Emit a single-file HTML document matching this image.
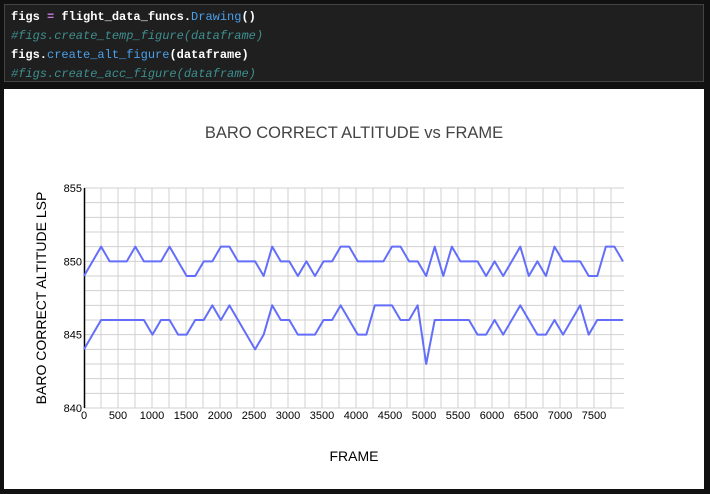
<!DOCTYPE html>
<html><head><meta charset="utf-8"><style>
body{margin:0;width:710px;height:494px;background:#111;overflow:hidden;font-family:"Liberation Sans",sans-serif}
#code{position:absolute;left:4px;top:4px;width:700px;height:78px;background:#1f1f1f;border:1px solid #444;box-sizing:border-box;font-family:"Liberation Mono","DejaVu Sans Mono",monospace;font-size:12px;line-height:19px;padding:3px 6px;color:#fff;font-weight:bold;white-space:pre}
.c{color:#3f8f8f;font-style:italic;font-weight:normal}.b{color:#4aa0ea;font-weight:normal}.p{color:#c678dd}
#fig{position:absolute;left:4px;top:89px;width:700px;height:400px;background:#fff}
</style></head><body>
<div id="code"><span>figs <span class="p">=</span> flight_data_funcs.<span class="b">Drawing</span>()</span>
<span class="c">#figs.create_temp_figure(dataframe)</span>
<span>figs.<span class="b">create_alt_figure</span>(dataframe)</span>
<span class="c">#figs.create_acc_figure(dataframe)</span></div>
<div id="fig"></div>
<svg id="chart" width="710" height="494" style="position:absolute;left:0;top:0"></svg>
<script>
const upper=[849,850,851,850,850,850,851,850,850,850,851,850,849,849,850,850,851,851,850,850,850,849,851,850,850,849,850,849,850,850,851,851,850,850,850,850,851,851,850,850,849,851,849,851,850,850,850,849,850,849,850,851,849,850,849,851,850,850,850,849,849,851,851,850];
const lower=[844,845,846,846,846,846,846,846,845,846,846,845,845,846,846,847,846,847,846,845,844,845,847,846,846,845,845,845,846,846,847,846,845,845,847,847,847,846,846,847,843,846,846,846,846,846,845,845,846,845,846,847,846,845,845,846,845,846,847,845,846,846,846,846];
const frameStep=125.8;
const xTicks=[0,500,1000,1500,2000,2500,3000,3500,4000,4500,5000,5500,6000,6500,7000,7500];
const yTicks=[840,845,850,855];
const NS="http://www.w3.org/2000/svg",svg=document.getElementById('chart');
const X0=84,X1=624,Y0=408,Y1=188,xMax=7941,yMin=840,yMax=855;
const xs=v=>X0+(v/xMax)*(X1-X0), ys=v=>Y0-(v-yMin)/(yMax-yMin)*(Y0-Y1);
function mk(t,a,txt){const e=document.createElementNS(NS,t);for(const k in a)e.setAttribute(k,a[k]);if(txt!=null)e.textContent=txt;svg.appendChild(e);return e;}
for(let f=250;f<xMax;f+=250){const g=mk('line',{x1:xs(f),x2:xs(f),y1:Y1,y2:Y0,stroke:'#d0d0d0','stroke-width':1});

}
for(let v=yMin;v<=yMax;v++){const g=mk('line',{x1:X0,x2:X1,y1:ys(v),y2:ys(v),stroke:'#d0d0d0','stroke-width':1});

}
const ax=mk('line',{x1:X0+0.5,x2:X0+0.5,y1:Y1,y2:Y0,stroke:'#000','stroke-width':1.5});


xTicks.forEach(t=>{const e=mk('text',{x:xs(t),y:419,'text-anchor':'middle','font-size':'11',fill:'#000'},t);

});
yTicks.forEach(t=>{const e=mk('text',{x:82,y:ys(t)+4,'text-anchor':'end','font-size':'11',fill:'#000'},t);

});
[upper,lower].forEach((s,i)=>{const p=mk('polyline',{points:s.map((v,j)=>xs(j*frameStep)+','+ys(v)).join(' '),fill:'none',stroke:'#636efa','stroke-width':2,'stroke-linejoin':'round'});

});
const t=mk('text',{x:354,y:138,'text-anchor':'middle','font-size':'16.5',fill:'#444'},'BARO CORRECT ALTITUDE vs FRAME');


const xt=mk('text',{x:354,y:461,'text-anchor':'middle','font-size':'14',fill:'#000'},'FRAME');


const yt=mk('text',{x:46,y:298,'text-anchor':'middle','font-size':'14',fill:'#000',transform:'rotate(-90 46 298)'},'BARO CORRECT ALTITUDE LSP');


</script>
</body></html>
